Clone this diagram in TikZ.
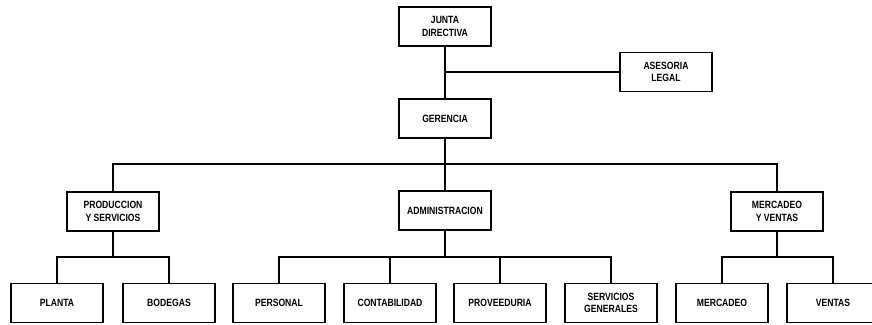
\documentclass[tikz,border=0pt]{standalone}
\usepackage{fontspec}
\setmainfont[FakeStretch=0.82]{Liberation Sans}
\usepackage{tikz}
\usetikzlibrary{positioning}

\begin{document}
\begin{tikzpicture}[x=1pt,y=-1pt,
  every node/.style={rectangle,draw,line width=1.1pt,minimum width=92pt,minimum height=39pt,
    align=center,inner sep=1pt,font=\bfseries\fontsize{10.5}{12.5}\selectfont},
  every path/.style={line width=1.1pt}]
\useasboundingbox (0,0) rectangle (872,324);
% top of the chart
\node (junta) at (445,26.5) {JUNTA\\DIRECTIVA};
\node (asesoria) at (666,72) {ASESORIA\\LEGAL};
\node (gerencia) at (445,118.5) {GERENCIA};
% departments
\node (prod) at (113,211.5) {PRODUCCION\\Y SERVICIOS};
\node (admin) at (445,210.5) {ADMINISTRACION};
\node (merc) at (777,211.5) {MERCADEO\\Y VENTAS};
% sections
\node (planta) at (57,303) {PLANTA};
\node (bodegas) at (169,303) {BODEGAS};
\node (personal) at (279,303) {PERSONAL};
\node (contab) at (390,303) {CONTABILIDAD};
\node (prov) at (500,303) {PROVEEDURIA};
\node (serv) at (611,303) {SERVICIOS\\GENERALES};
\node (mercadeo) at (722,303) {MERCADEO};
\node (ventas) at (833,303) {VENTAS};

\coordinate (bus) at (445,164);
\coordinate (pbus) at (113,257);
\coordinate (abus) at (445,257);
\coordinate (mbus) at (777,257);

\draw (junta) -- (gerencia);
\draw (asesoria.west) -- (asesoria.west -| junta.south);
\draw (gerencia) -- (bus);
\draw (prod.north) |- (bus) -| (merc.north);
\draw (bus) -- (admin);
\draw (prod) -- (pbus);
\draw (planta.north) |- (pbus) -| (bodegas.north);
\draw (admin) -- (abus);
\draw (personal.north) |- (abus) -| (serv.north);
\draw (contab.north) |- (abus);
\draw (prov.north) |- (abus);
\draw (merc) -- (mbus);
\draw (mercadeo.north) |- (mbus) -| (ventas.north);
\end{tikzpicture}
\end{document}
